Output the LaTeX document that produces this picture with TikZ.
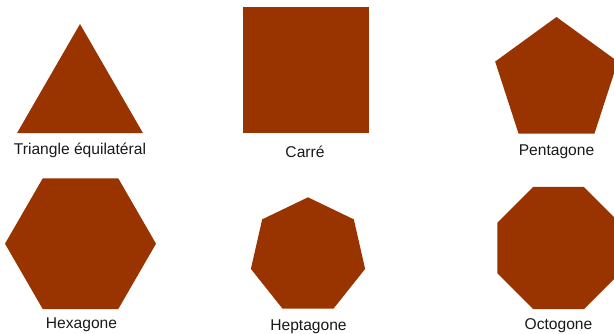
\documentclass[tikz,border=0pt]{standalone}
\usepackage{fontspec}
\setmainfont{Liberation Sans}
\usetikzlibrary{shapes.geometric}
\definecolor{shape-brown}{RGB}{153,51,0}

\begin{document}
\begin{tikzpicture}[x=1pt, y=-1pt,
  poly/.style={regular polygon, fill=shape-brown, inner sep=0pt, outer sep=0pt},
  caption/.style={anchor=base, inner sep=0pt, text=black!90, font=\fontsize{15.6}{18}\selectfont},
]
  \useasboundingbox (0,0) rectangle (614,333);
  \clip (0,0) rectangle (614,333);

  % Top row
  \node[poly, regular polygon sides=3, minimum size=145.4pt] (triangle) at (80,96.7) {};
  \node[caption] (triangle-label) at (80,154) {Triangle équilatéral};

  \node[poly, regular polygon sides=4, minimum size=178.2pt] (square) at (306,70) {};
  \node[caption] (square-label) at (305,157.5) {Carré};

  \node[poly, regular polygon sides=5, minimum size=129pt] (pentagon) at (556.5,81.5) {};
  \node[caption] (pentagon-label) at (556.5,155.5) {Pentagone};

  % Bottom row
  \node[poly, regular polygon sides=6, minimum size=151pt] (hexagon) at (80.5,243.7) {};
  \node[caption] (hexagon-label) at (81.5,328) {Hexagone};

  \node[poly, regular polygon sides=7, minimum size=117.2pt] (heptagon) at (308,255.9) {};
  \node[caption] (heptagon-label) at (308.5,330) {Heptagone};

  \node[poly, regular polygon sides=8, minimum size=132.4pt] (octagon) at (558.5,248) {};
  \node[caption] (octagon-label) at (558.5,329.5) {Octogone};
\end{tikzpicture}
\end{document}
